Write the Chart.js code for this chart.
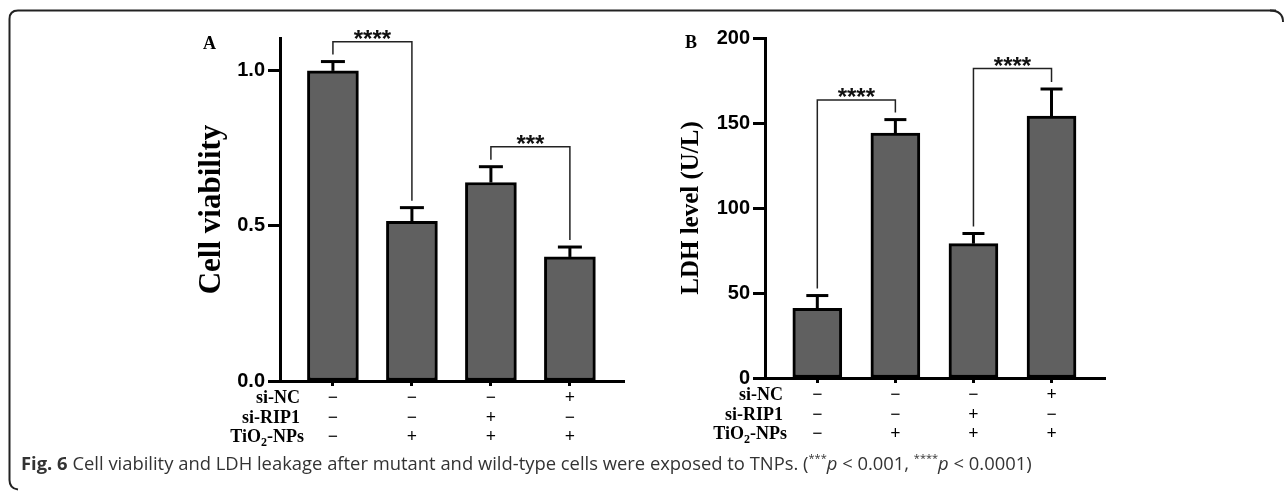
<!DOCTYPE html>
<html>
<head>
<meta charset="utf-8">
<script src="https://cdn.jsdelivr.net/npm/chart.js@4.4.1/dist/chart.umd.min.js"></script>
<style>
  html, body { margin:0; padding:0; background:#fff; }
  body { width:1284px; height:492px; position:relative; overflow:hidden; }
  canvas { position:absolute; }
  .panel { position:absolute; font:bold 18px "Liberation Serif", "DejaVu Serif", serif; color:#000; }
  #caption { position:absolute; left:21px; top:452px; font:18.4px "Open Sans", sans-serif; color:#333; white-space:nowrap; line-height:22px; }
  #caption b { font-weight:700; color:#333; }
  #caption sup { font-size:11px; vertical-align:8px; line-height:0; }
</style>
</head>
<body>
<svg width="1284" height="492" style="position:absolute;left:0;top:0">
  <path d="M1276 10.5 L18 10.5 Q9.5 10.5 9.5 19 L9.5 480 Q9.5 488.5 18 489.5" fill="none" stroke="#222" stroke-width="2"/>
  <path d="M1270 10.5 Q1283 10.5 1283 22" fill="none" stroke="#222" stroke-width="2"/>
</svg>
<canvas id="chartA" width="640" height="460" style="left:0;top:0;width:640px;height:460px"></canvas>
<canvas id="chartB" width="480" height="460" style="left:640px;top:0;width:480px;height:460px"></canvas>
<div class="panel" style="left:203px;top:33px">A</div>
<div class="panel" style="left:685px;top:32px">B</div>
<div id="caption"><b>Fig. 6</b> Cell viability and LDH leakage after mutant and wild-type cells were exposed to TNPs. (<sup>***</sup><i>p</i> &lt; 0.001, <sup>****</sup><i>p</i> &lt; 0.0001)</div>
<script>
// ---- data ----
const rowNames = ['si-NC', 'si-RIP1', 'TiO2-NPs'];
const siNC   = ['\u2212', '\u2212', '\u2212', '+'];
const siRIP1 = ['\u2212', '\u2212', '+', '\u2212'];
const tio2   = ['\u2212', '+', '+', '+'];
const groupIndex = [0, 1, 2, 3];

const viabilityMean = [1.00, 0.515, 0.64, 0.40];
const viabilitySEM  = [0.03, 0.044, 0.051, 0.032];
const viabilityTicks = [0, 0.5, 1.0];
const viabilitySig = [[0, 1, '****', 1.094], [2, 3, '***', 0.755]];

const ldhMean = [41, 144, 79, 154];
const ldhSEM  = [7.5, 8, 6, 16];
const ldhTicks = [0, 50, 100, 150, 200];
const ldhSig = [[0, 1, '****', 163.5], [2, 3, '****', 182]];

const SERIF = '"Liberation Serif", "Times New Roman", serif';
const SANS = '"Liberation Sans", Arial, sans-serif';
const ROW_LH = 19.5;
const ROW_PAD = 3;

function drawTiO2(ctx, xRight, y, size) {
  const f1 = 'bold ' + size + 'px ' + SERIF;
  const f2 = 'bold ' + Math.round(size * 0.65) + 'px ' + SERIF;
  ctx.font = f1; const w1 = ctx.measureText('TiO').width; const w3 = ctx.measureText('-NPs').width;
  ctx.font = f2; const w2 = ctx.measureText('2').width;
  let x = xRight - (w1 + w2 + w3);
  ctx.textAlign = 'left';
  ctx.font = f1; ctx.fillText('TiO', x, y); x += w1;
  ctx.font = f2; ctx.fillText('2', x, y + size * 0.28); x += w2;
  ctx.font = f1; ctx.fillText('-NPs', x, y);
}

function makeAnnot(means, sems, sig, capW, headerOffset) {
  return {
    id: 'annot',
    afterDatasetsDraw(chart) {
      const { ctx } = chart;
      const xs = chart.scales.x, ys = chart.scales.y;
      ctx.save();
      ctx.strokeStyle = '#000'; ctx.lineWidth = 3; ctx.lineCap = 'butt';
      const errTop = [];
      means.forEach((m, i) => {
        const px = xs.getPixelForValue(i);
        const y0 = ys.getPixelForValue(m);
        const y1 = ys.getPixelForValue(m + sems[i]);
        errTop.push(y1);
        ctx.beginPath(); ctx.moveTo(px, y0); ctx.lineTo(px, y1); ctx.stroke();
        ctx.beginPath(); ctx.moveTo(px - capW / 2, y1); ctx.lineTo(px + capW / 2, y1); ctx.stroke();
      });
      ctx.strokeStyle = '#222'; ctx.lineWidth = 1.5;
      sig.forEach(([a, b, stars, h]) => {
        const xa = xs.getPixelForValue(a), xb = xs.getPixelForValue(b);
        const yt = ys.getPixelForValue(h);
        ctx.beginPath();
        ctx.moveTo(xa, errTop[a] - 7); ctx.lineTo(xa, yt); ctx.lineTo(xb, yt); ctx.lineTo(xb, errTop[b] - 7);
        ctx.stroke();
        ctx.fillStyle = '#111';
        ctx.font = 'bold 24px ' + SANS;
        ctx.textAlign = 'center'; ctx.textBaseline = 'alphabetic';
        ctx.fillText(stars, (xa + xb) / 2, yt + 5);
      });
      ctx.restore();
    },
    afterDraw(chart) {
      const { ctx } = chart;
      const xs = chart.scales.x;
      ctx.save();
      ctx.fillStyle = '#000'; ctx.textBaseline = 'middle';
      rowNames.forEach((name, i) => {
        const y = xs.top + 5 + ROW_PAD + ROW_LH / 2 + i * ROW_LH;
        const xr = chart.chartArea.left + headerOffset;
        if (name === 'TiO2-NPs') { drawTiO2(ctx, xr + 4, y, 18); }
        else {
          ctx.font = 'bold 18px ' + SERIF; ctx.textAlign = 'right';
          ctx.fillText(name, xr, y);
        }
      });
      ctx.restore();
    }
  };
}

function makeChart(id, means, sems, ticks, sig, opt) {
  return new Chart(document.getElementById(id), {
    type: 'bar',
    data: {
      datasets: [{
        data: means.map((m, i) => ({ x: groupIndex[i], y: m })),
        backgroundColor: '#606060',
        borderColor: '#000',
        borderWidth: 3,
        borderSkipped: false,
        barThickness: opt.barW
      }]
    },
    options: {
      responsive: false,
      animation: false,
      devicePixelRatio: 1,
      layout: { padding: { left: 0, right: opt.padRight, top: 38, bottom: opt.padBottom } },
      plugins: { legend: { display: false }, tooltip: { enabled: false } },
      scales: {
        x: {
          type: 'linear', offset: false, min: -0.67, max: 3.685,
          afterBuildTicks: s => { s.ticks = groupIndex.map(v => ({ value: v })); },
          afterFit: s => { s.height = 72; },
          grid: { offset: false, drawOnChartArea: false, drawTicks: true, tickLength: 5, tickWidth: 3, tickColor: '#000' },
          border: { display: true, width: 3, color: '#000' },
          ticks: {
            autoSkip: false, maxRotation: 0, padding: ROW_PAD, color: '#000',
            font: { family: SERIF, size: 18, weight: 'bold', lineHeight: ROW_LH + 'px' },
            callback: v => [siNC[v], siRIP1[v], tio2[v]]
          }
        },
        y: {
          min: ticks[0], max: opt.yMax,
          afterBuildTicks: s => { s.ticks = ticks.map(v => ({ value: v })); },
          afterFit: s => { s.width = opt.yW; },
          grid: { drawOnChartArea: false, drawTicks: true, tickLength: 12, tickWidth: 3, tickColor: '#000' },
          border: { display: true, width: 3, color: '#000' },
          ticks: {
            padding: 3, color: '#000',
            font: { family: SANS, size: 20, weight: 'bold' },
            callback: opt.fmt
          },
          title: {
            display: true, text: opt.title, color: '#000',
            font: { family: SERIF, size: opt.titleSize, weight: 'bold', lineHeight: 1.2 },
            padding: { top: opt.titlePad, bottom: 0 }
          }
        }
      }
    },
    plugins: [makeAnnot(means, sems, sig, opt.capW, opt.headerOffset)]
  });
}

makeChart('chartA', viabilityMean, viabilitySEM, viabilityTicks, viabilitySig, {
  barW: 51, padRight: 16, padBottom: 7, yW: 280, yMax: 1.106, title: 'Cell viability', titleSize: 31, titlePad: 193,
  fmt: v => v.toFixed(1), capW: 24, headerOffset: 20
});
makeChart('chartB', ldhMean, ldhSEM, ldhTicks, ldhSig, {
  barW: 49, padRight: 15, padBottom: 10, yW: 125, yMax: 200, title: 'LDH level (U/L)', titleSize: 25, titlePad: 37,
  fmt: v => String(v), capW: 22, headerOffset: 18
});
</script>
</body>
</html>
